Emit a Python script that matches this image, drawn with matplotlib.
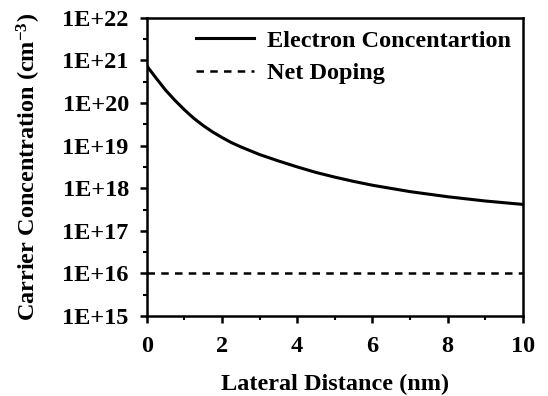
import numpy as np
import matplotlib
matplotlib.use('Agg')
import matplotlib.pyplot as plt
from matplotlib.ticker import FixedLocator, NullFormatter

plt.rcParams['font.family'] = 'Liberation Serif'
plt.rcParams['font.weight'] = 'bold'
plt.rcParams['mathtext.fontset'] = 'custom'
plt.rcParams['mathtext.rm'] = 'Liberation Serif:bold'
plt.rcParams['mathtext.it'] = 'Liberation Serif:bold'
plt.rcParams['mathtext.bf'] = 'Liberation Serif:bold'

# electron concentration (log10 of cm^-3)
dist = [0, 0.25, 0.5, 0.75, 1, 1.25, 1.5, 1.75, 2, 2.25, 2.5, 2.75, 3,
        3.5, 4, 4.5, 5, 5.5, 6, 7, 8, 9, 10]
log_n = [20.87, 20.58, 20.3, 20.06, 19.84, 19.64, 19.47, 19.32, 19.19,
         19.07, 18.97, 18.88, 18.79, 18.64, 18.5, 18.37, 18.26, 18.16,
         18.07, 17.92, 17.8, 17.7, 17.62]
electron = 10 ** np.array(log_n)

doping_x = [0, 10]
doping = [1.05e16, 1.05e16]

y_exp = [15, 16, 17, 18, 19, 20, 21, 22]
y_labels = ['1E+15', '1E+16', '1E+17', '1E+18', '1E+19', '1E+20', '1E+21', '1E+22']
x_ticks = [0, 2, 4, 6, 8, 10]

fig = plt.figure(figsize=(5.48, 3.96), dpi=100)
ax = fig.add_axes([0.268, 0.202, 0.686, 0.753])

ax.plot(dist, electron, color='black', lw=2.2, label='Electron Concentartion')
ax.plot(doping_x, doping, color='black', lw=1.8, ls=(0, (3, 2.5)), label='Net Doping')

ax.set_yscale('log')
ax.set_ylim(1e15, 1e22)
ax.set_xlim(0, 10)

ax.yaxis.set_major_locator(FixedLocator([10.0 ** e for e in y_exp]))
ax.set_yticklabels(y_labels)
ax.yaxis.set_minor_locator(FixedLocator([10.0 ** (e + 0.5) for e in y_exp[:-1]]))
ax.yaxis.set_minor_formatter(NullFormatter())

ax.set_xticks(x_ticks)
ax.set_xticks([1, 3, 5, 7, 9], minor=True)

for s in ax.spines.values():
    s.set_linewidth(1.8)
ax.tick_params(which='major', direction='out', length=5, width=1.8, labelsize=17.5)
ax.tick_params(which='minor', direction='out', length=3, width=1.5)
ax.tick_params(axis='y', which='major', pad=8)
ax.tick_params(axis='x', which='major', pad=9.5)

ax.set_xlabel('Lateral Distance (nm)', fontsize=17.5, fontweight='bold', labelpad=12)
ax.set_ylabel('Carrier Concentration (cm$^{-3}$)', fontsize=17.5, fontweight='bold', labelpad=14)

ax.legend(loc='upper right', frameon=False, fontsize=17.5, handlelength=2.4,
          borderaxespad=0.1, labelspacing=0.42, handletextpad=0.5)

fig.savefig('out.png', dpi=100)
